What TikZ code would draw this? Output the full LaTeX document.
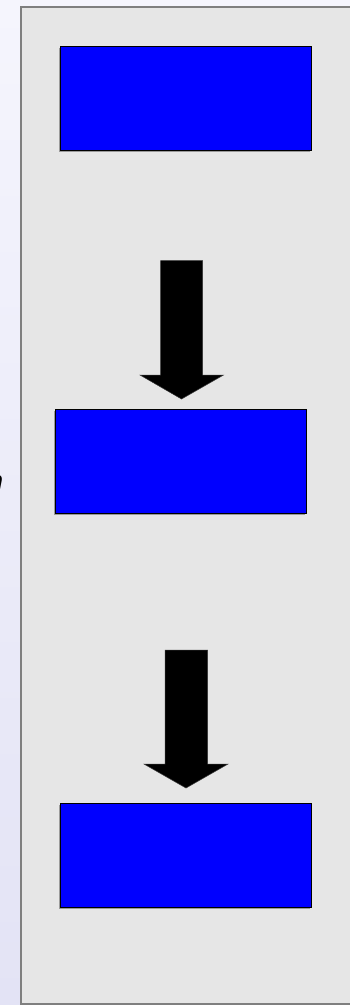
\documentclass[tikz,border=0pt]{standalone}
\usepackage{fontspec}
\setmainfont{Liberation Sans}
\begin{document}
\begin{tikzpicture}[x=1pt,y=-1pt,
  panel/.style={fill=panelgray,draw=bordergray,line width=2pt},
  bluebox/.style={fill=blue,draw=black,line width=1pt,minimum width=251pt,minimum height=104pt,inner sep=0pt,
    preaction={fill=shadowgray,transform canvas={xshift=-1.5pt,yshift=-1.5pt}}},
  bigarrow/.style={fill=black,draw=black!80,line width=0.5pt}]
\definecolor{panelgray}{HTML}{E6E6E6}
\definecolor{bordergray}{HTML}{7F7F7F}
\definecolor{shadowgray}{HTML}{9A9A9A}
\definecolor{bgtop}{HTML}{F5F5FD}
\definecolor{bgbot}{HTML}{E3E3F5}
\useasboundingbox (0,0) rectangle (350,1005);
\clip (0,0) rectangle (350,1005);
\shade[top color=bgtop,bottom color=bgbot] (0,0) rectangle (350,1005);
\node[anchor=base east,font=\itshape\fontsize{30}{30}\selectfont,inner sep=0pt] (frag) at (3.5,491) {n};
\path[panel] (21,7) rectangle (360,1004);
\node[bluebox] (b1) at (186,98.75) {};
\node[bluebox] (b2) at (181.25,461.5) {};
\node[bluebox] (b3) at (186,855.5) {};
% arrow 1
\fill[bigarrow] (160.5,260.5) -- (202.5,260.5) -- (202.5,375) -- (223.5,375) -- (181.5,399) -- (140,375) -- (160.5,375) -- cycle;
% arrow 2
\fill[bigarrow] (165,650) -- (207.5,650) -- (207.5,764) -- (228,764) -- (186,788) -- (144,764) -- (165,764) -- cycle;
\coordinate (a1) at (181.5,399);
\coordinate (a2) at (186,788);
\end{tikzpicture}
\end{document}
